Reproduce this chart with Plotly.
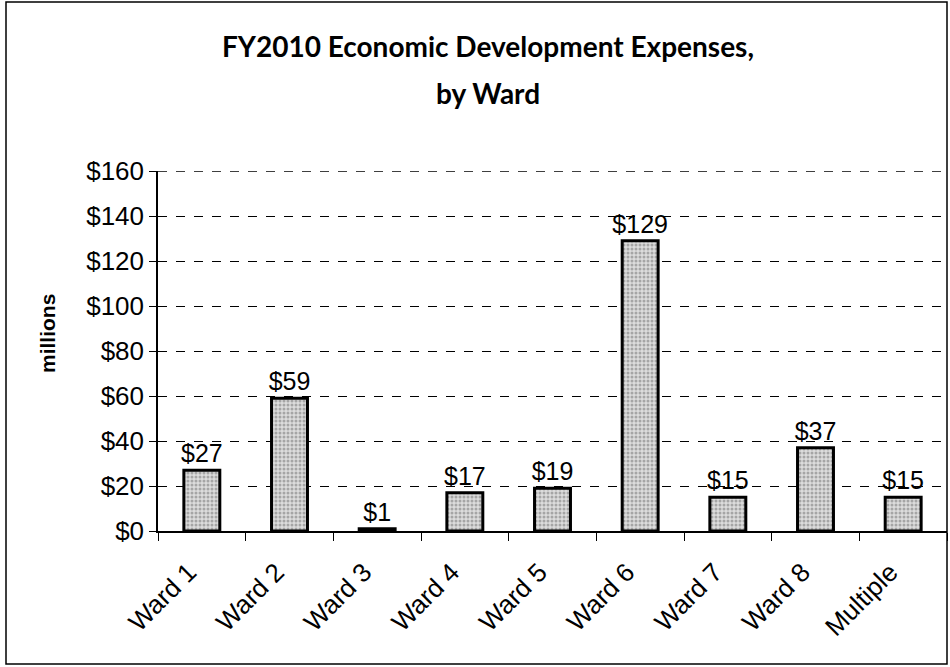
import plotly.graph_objects as go

categories = ["Ward 1", "Ward 2", "Ward 3", "Ward 4", "Ward 5", "Ward 6", "Ward 7", "Ward 8", "Multiple"]
values = [27, 59, 1, 17, 19, 129, 15, 37, 15]
y_ticks = [0, 20, 40, 60, 80, 100, 120, 140, 160]
y_tick_labels = ["$" + str(v) for v in y_ticks]
labels = ["$" + str(v) for v in values]
title_lines = ["FY2010 Economic Development Expenses,", "by Ward"]
y_title = "millions"

fig = go.Figure()
fig.add_trace(go.Bar(
    x=categories, y=values, text=labels, textposition="outside",
    cliponaxis=False, constraintext="none",
    textfont=dict(family="Liberation Sans, Arial", size=25, color="black"),
    marker=dict(color="#c8c8c8", line=dict(color="black", width=3),
                pattern=dict(shape=".", fgcolor="#6e6e6e", bgcolor="#dcdcdc", size=4, solidity=0.45)),
    width=0.41,
))

W, H = 950, 667
L, R, T, B = 158, 3, 171, 136
pw, ph = W - L - R, H - T - B

def px_x(x):
    return (x - L) / pw

def px_y(y):
    return (H - B - y) / ph

fig.update_layout(
    width=W, height=H,
    margin=dict(l=L, r=R, t=T, b=B),
    paper_bgcolor="white", plot_bgcolor="white",
    showlegend=False,
    font=dict(family="Liberation Sans, Arial", color="black"),
    xaxis=dict(
        tickfont=dict(size=26), tickangle=-45, ticks="outside", ticklen=8,
        tickson="boundaries", tickcolor="black", showline=True, linecolor="black",
        linewidth=1.5, showgrid=False, zeroline=False, ticklabelstandoff=14,
        ticklabelshift=-13,
    ),
    yaxis=dict(
        range=[0, 160], tickvals=y_ticks, ticktext=y_tick_labels,
        tickfont=dict(size=26), ticks="outside", ticklen=7, tickcolor="black",
        showline=True, linecolor="black", linewidth=1.5,
        showgrid=True, gridcolor="black", griddash="dash", gridwidth=1.3,
        zeroline=False,
    ),
)

fig.add_annotation(text="<b>" + y_title + "</b>", xref="paper", yref="paper",
                   x=px_x(47), y=px_y(333), xanchor="center", yanchor="middle",
                   textangle=-90, showarrow=False,
                   font=dict(family="Liberation Sans, Arial", size=21, color="black"))

for line, ypx in zip(title_lines, [46, 93]):
    fig.add_annotation(text="<b>" + line + "</b>", xref="paper", yref="paper",
                       x=px_x(488), y=px_y(ypx), xanchor="center", yanchor="middle",
                       showarrow=False, font=dict(family="Lato", size=28, color="black"))

fig.add_shape(type="line", xref="paper", yref="y", x0=0, x1=1, y0=y_ticks[-1], y1=y_ticks[-1],
              line=dict(color="black", width=1.3, dash="dash"), layer="below")

fig.add_shape(type="rect", xref="paper", yref="paper",
              x0=px_x(6), x1=px_x(947), y0=px_y(664), y1=px_y(2),
              line=dict(color="black", width=1.5), fillcolor="rgba(0,0,0,0)", layer="below")

fig.write_html("out.html", config={"displayModeBar": False},
               post_script="document.body.style.margin='0';")
